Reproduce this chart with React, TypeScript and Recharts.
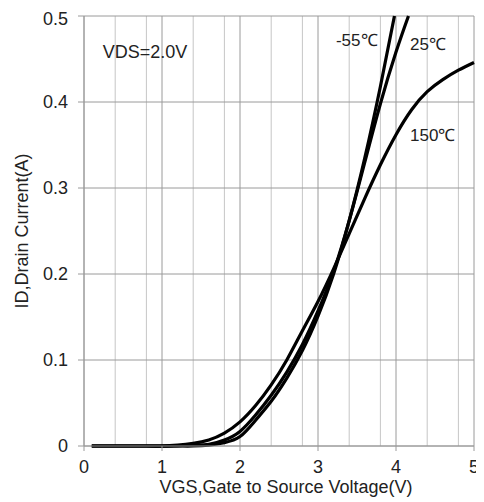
import React from 'react';
import {
  LineChart, Line, XAxis, YAxis, CartesianGrid, Label, ReferenceDot,
} from 'recharts';

// VGS (V) / ID (A)
const vgsM55 = [0.1, 0.8, 1.2, 1.4, 1.6, 1.8, 2.0, 2.2, 2.4, 2.6, 2.8, 3.0, 3.2, 3.4, 3.6, 3.8, 3.98];
const idM55 = [0, 0, 0, 0, 0.001, 0.004, 0.011, 0.03, 0.052, 0.079, 0.111, 0.151, 0.2, 0.262, 0.335, 0.418, 0.5];

const vgs25 = [0.1, 0.8, 1.2, 1.4, 1.6, 1.8, 2.0, 2.2, 2.4, 2.6, 2.8, 3.0, 3.2, 3.4, 3.6, 3.8, 4.0, 4.16];
const id25 = [0, 0, 0, 0.001, 0.002, 0.007, 0.017, 0.036, 0.059, 0.086, 0.118, 0.157, 0.203, 0.262, 0.33, 0.398, 0.458, 0.5];

const vgs150 = [0.1, 0.8, 1.0, 1.2, 1.4, 1.6, 1.8, 2.0, 2.2, 2.4, 2.6, 2.8, 3.0, 3.2, 3.4, 3.6, 3.8, 4.0, 4.2, 4.4, 4.6, 4.8, 5.0];
const id150 = [0, 0, 0, 0.001, 0.003, 0.007, 0.015, 0.028, 0.047, 0.071, 0.1, 0.134, 0.168, 0.206, 0.247, 0.288, 0.327, 0.362, 0.391, 0.412, 0.426, 0.437, 0.446];

const xTicks = [0, 1, 2, 3, 4, 5];
const xMinor = [0.2, 0.4, 0.6, 0.8, 1.2, 1.4, 1.6, 1.8, 2.2, 2.4, 2.6, 2.8, 3.2, 3.4, 3.6, 3.8, 4.2, 4.4, 4.6, 4.8];
const yTicks = [0, 0.1, 0.2, 0.3, 0.4, 0.5];

const seriesM55 = vgsM55.map((v, i) => ({ vgs: v, id: idM55[i] }));
const series25 = vgs25.map((v, i) => ({ vgs: v, id: id25[i] }));
const series150 = vgs150.map((v, i) => ({ vgs: v, id: id150[i] }));

const FONT = '"Liberation Sans", Arial, sans-serif';
const TXT = '#222';
const AXIS = '#9a9a9a';

const note = (text: string) => ({
  value: text,
  position: 'right' as const,
  offset: 0,
  fill: TXT,
  fontSize: 17,
  fontFamily: FONT,
});

export default function App() {
  return (
    <LineChart
      width={476}
      height={494}
      margin={{ top: 8, right: 10, left: 0, bottom: 0 }}
      style={{ fontFamily: FONT }}
    >
      <CartesianGrid
        horizontal={false}
        verticalValues={xMinor}
        stroke="#c6c6c6"
        strokeWidth={1}
      />
      <CartesianGrid
        verticalValues={xTicks}
        horizontalValues={yTicks}
        stroke={AXIS}
        strokeWidth={1}
      />
      <XAxis
        dataKey="vgs"
        type="number"
        domain={[0, 5]}
        ticks={xTicks}
        allowDuplicatedCategory={false}
        height={56}
        tickSize={5}
        tickMargin={9}
        stroke={AXIS}
        tick={{ fill: TXT, fontSize: 18, fontFamily: FONT }}
      >
        <Label
          content={({ viewBox }: any) => (
            <text
              x={viewBox.x + viewBox.width / 2 + 7}
              y={viewBox.y + 47}
              textAnchor="middle"
              fill={TXT}
              fontSize={18}
              fontFamily={FONT}
            >
              VGS,Gate to Source Voltage(V)
            </text>
          )}
        />
      </XAxis>
      <YAxis
        type="number"
        domain={[0, 0.5]}
        ticks={yTicks}
        width={76}
        tickSize={6}
        tickMargin={10}
        stroke={AXIS}
        tickFormatter={(v: number) => (v === 0 ? '0' : v.toFixed(1))}
        tick={{ fill: TXT, fontSize: 18, fontFamily: FONT }}
      >
        <Label
          content={({ viewBox }: any) => {
            const cx = viewBox.x + 20;
            const cy = viewBox.y + viewBox.height / 2;
            return (
              <text
                x={cx}
                y={cy}
                transform={`rotate(-90, ${cx}, ${cy})`}
                textAnchor="middle"
                fill={TXT}
                fontSize={18}
                fontFamily={FONT}
              >
                ID,Drain Current(A)
              </text>
            );
          }}
        />
      </YAxis>
      <Line data={series150} dataKey="id" type="natural" stroke="#000" strokeWidth={3.2} dot={false} isAnimationActive={false} />
      <Line data={series25} dataKey="id" type="natural" stroke="#000" strokeWidth={3.2} dot={false} isAnimationActive={false} />
      <Line data={seriesM55} dataKey="id" type="natural" stroke="#000" strokeWidth={3.2} dot={false} isAnimationActive={false} />
      <ReferenceDot x={0.24} y={0.459} r={0} label={{ ...note('VDS=2.0V'), fontSize: 18 }} />
      <ReferenceDot x={3.23} y={0.472} r={0} label={note('-55℃')} />
      <ReferenceDot x={4.18} y={0.468} r={0} label={note('25℃')} />
      <ReferenceDot x={4.18} y={0.362} r={0} label={note('150℃')} />
    </LineChart>
  );
}
